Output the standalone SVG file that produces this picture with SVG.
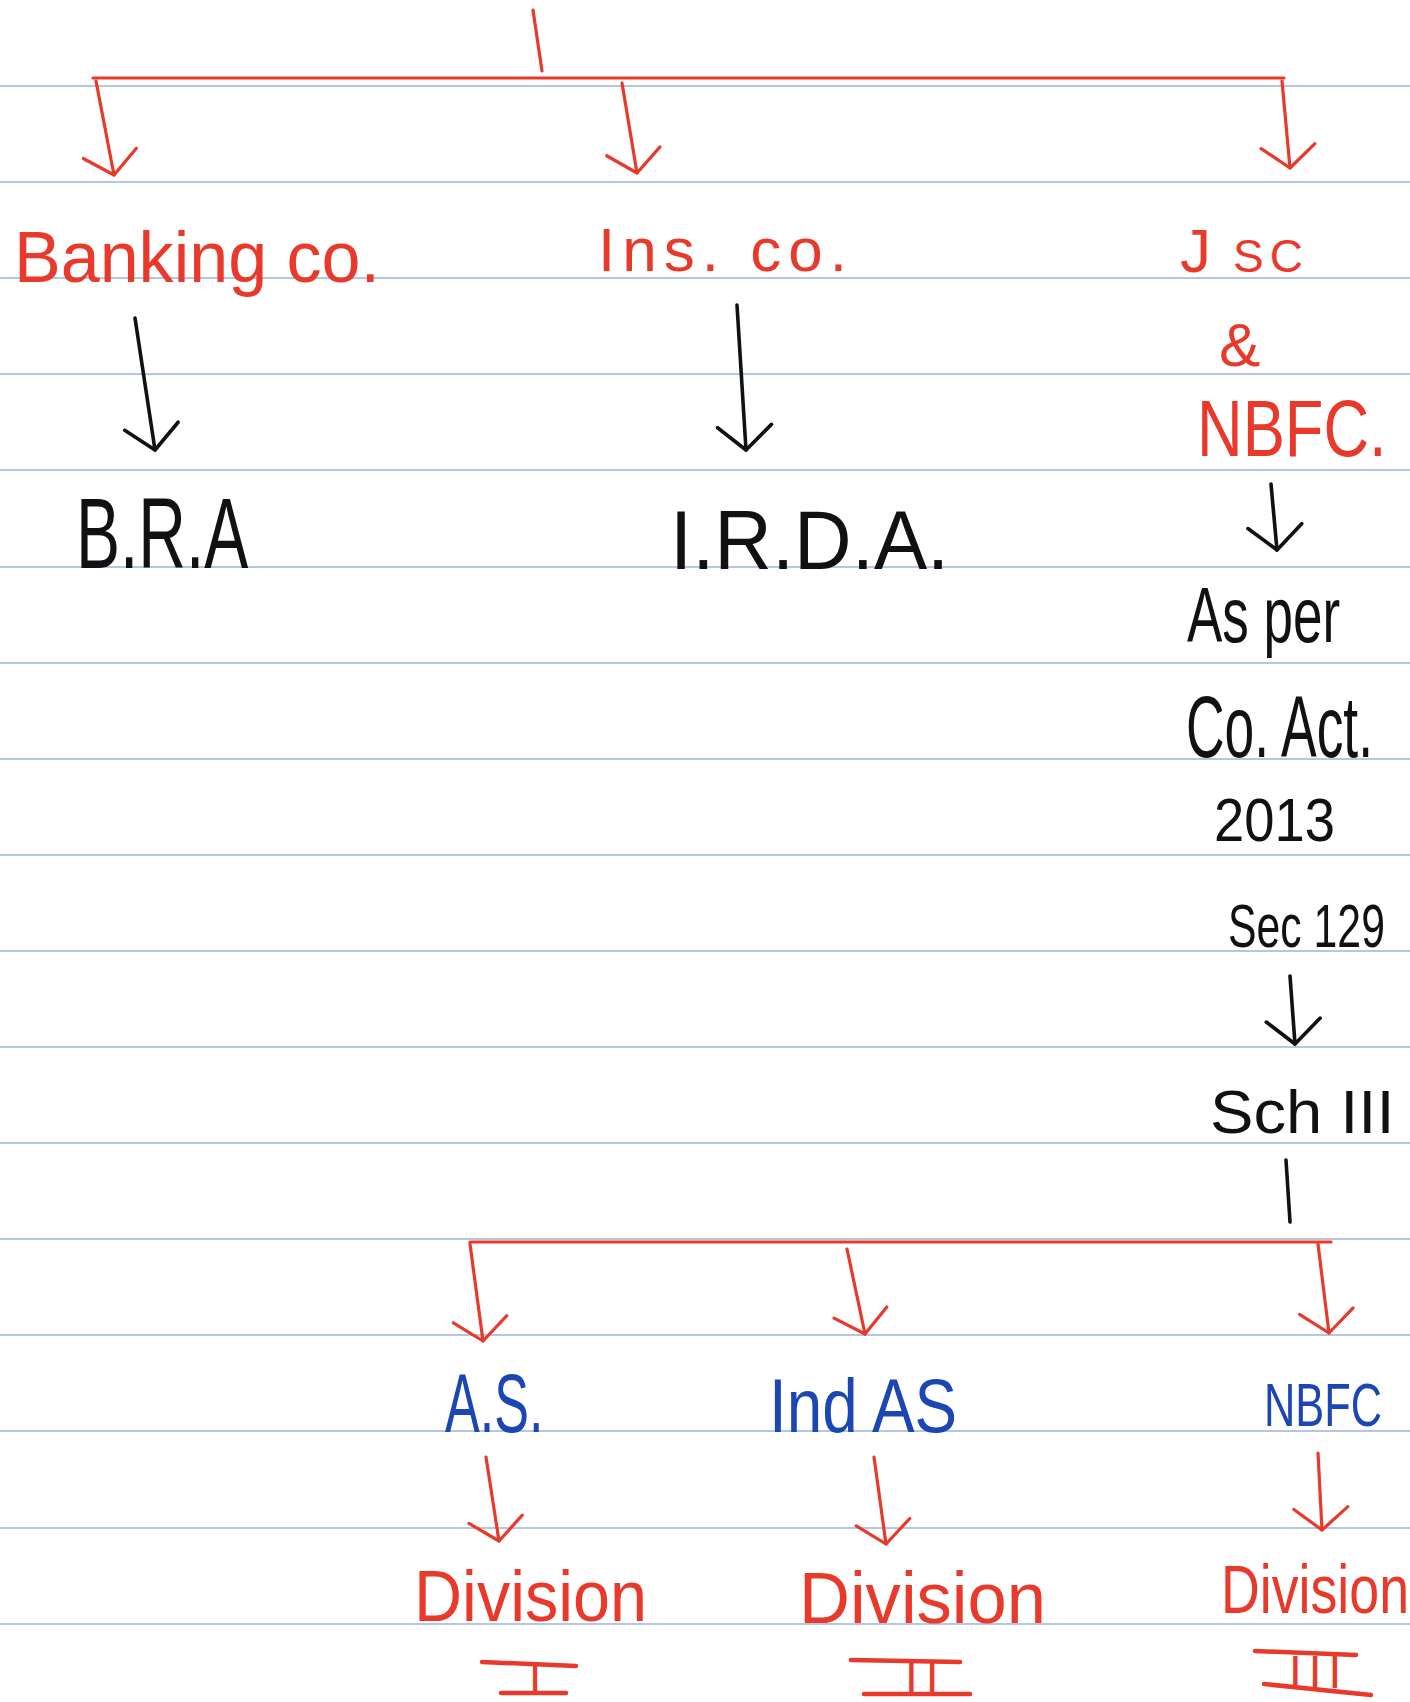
<svg xmlns="http://www.w3.org/2000/svg" width="1410" height="1702" viewBox="0 0 1410 1702">
<style>
.rule{stroke:#b3c6e2;stroke-width:2}
.r{fill:none;stroke:#e8392b;stroke-width:3.2;stroke-linecap:round;stroke-linejoin:round}
.rb{fill:none;stroke:#e8392b;stroke-width:4.5;stroke-linecap:round}
.k{fill:none;stroke:#111;stroke-width:3.6;stroke-linecap:round;stroke-linejoin:round}
.t{font-family:"Liberation Sans",Arial,sans-serif}
.red{fill:#e8392b}
.blk{fill:#111}
.blu{fill:#1c46b4}
</style>
<defs>
<marker id="ar" viewBox="-30 -30 60 60" refX="0" refY="0" markerWidth="60" markerHeight="60" markerUnits="userSpaceOnUse" orient="auto" overflow="visible">
<path d="M-22,-27 L0,0 L-22,27" fill="none" stroke="#e8392b" stroke-width="3.2" stroke-linecap="round" stroke-linejoin="round"/>
</marker>
<marker id="ak" viewBox="-30 -30 60 60" refX="0" refY="0" markerWidth="60" markerHeight="60" markerUnits="userSpaceOnUse" orient="auto" overflow="visible">
<path d="M-24,-27 L0,0 L-24,27" fill="none" stroke="#111" stroke-width="3.6" stroke-linecap="round" stroke-linejoin="round"/>
</marker>
</defs>
<rect width="1410" height="1702" fill="#fff"/>
<g id="ruling">
<line class="rule" x1="0" y1="86" x2="1410" y2="86"/>
<line class="rule" x1="0" y1="182" x2="1410" y2="182"/>
<line class="rule" x1="0" y1="278" x2="1410" y2="278"/>
<line class="rule" x1="0" y1="374" x2="1410" y2="374"/>
<line class="rule" x1="0" y1="470" x2="1410" y2="470"/>
<line class="rule" x1="0" y1="567" x2="1410" y2="567"/>
<line class="rule" x1="0" y1="663" x2="1410" y2="663"/>
<line class="rule" x1="0" y1="759" x2="1410" y2="759"/>
<line class="rule" x1="0" y1="855" x2="1410" y2="855"/>
<line class="rule" x1="0" y1="951" x2="1410" y2="951"/>
<line class="rule" x1="0" y1="1047" x2="1410" y2="1047"/>
<line class="rule" x1="0" y1="1143" x2="1410" y2="1143"/>
<line class="rule" x1="0" y1="1239" x2="1410" y2="1239"/>
<line class="rule" x1="0" y1="1335" x2="1410" y2="1335"/>
<line class="rule" x1="0" y1="1431" x2="1410" y2="1431"/>
<line class="rule" x1="0" y1="1528" x2="1410" y2="1528"/>
<line class="rule" x1="0" y1="1624" x2="1410" y2="1624"/>
</g>
<g id="connectors">
<path class="r" d="M533,10 L542,71"/>
<path class="r" d="M93,78 L1284,78"/>
<path class="r" d="M96,81 L114,175" marker-end="url(#ar)"/>
<path class="r" d="M622,83 L637,173" marker-end="url(#ar)"/>
<path class="r" d="M1282,81 L1290,168" marker-end="url(#ar)"/>
<path class="k" d="M135,318 L155,450" marker-end="url(#ak)"/>
<path class="k" d="M737,305 L746,450" marker-end="url(#ak)"/>
<path class="k" d="M1271,484 L1277,550" marker-end="url(#ak)"/>
<path class="k" d="M1290,976 L1295,1044" marker-end="url(#ak)"/>
<path class="k" d="M1286,1160 L1290,1222"/>
<path class="r" d="M470,1242 L1331,1242"/>
<path class="r" d="M470,1244 L483,1341" marker-end="url(#ar)"/>
<path class="r" d="M847,1249 L865,1334" marker-end="url(#ar)"/>
<path class="r" d="M1318,1244 L1329,1333" marker-end="url(#ar)"/>
<path class="r" d="M486,1457 L499,1541" marker-end="url(#ar)"/>
<path class="r" d="M874,1457 L886,1544" marker-end="url(#ar)"/>
<path class="r" d="M1318,1453 L1322,1530" marker-end="url(#ar)"/>
</g>
<g id="banking"><text class="t red" x="0" y="0" font-size="72" transform="translate(14,282) scale(0.973,1)">Banking co.</text></g>
<g id="insco"><text class="t red" x="598" y="271" font-size="62" letter-spacing="7">Ins. co.</text></g>
<g id="jsc">
<text class="t red" x="1180" y="272" font-size="62"><tspan>J</tspan><tspan dx="22" font-size="46" letter-spacing="6">SC</tspan></text>
<text class="t red" x="1219" y="366" font-size="62">&amp;</text>
<text class="t red" x="0" y="0" font-size="80" transform="translate(1197,456) scale(0.79,1)">NBFC.</text>
</g>
<g id="bra"><text class="t blk" x="0" y="0" font-size="100" transform="translate(76,568) scale(0.66,1)">B.R.A</text></g>
<g id="irda"><text class="t blk" x="0" y="0" font-size="84" transform="translate(670,569) scale(0.95,1)">I.R.D.A.</text></g>
<g id="coact">
<text class="t blk" x="0" y="0" font-size="78" transform="translate(1187,642) scale(0.68,1)">As per</text>
<text class="t blk" x="0" y="0" font-size="88" transform="translate(1186,757) scale(0.607,1)">Co. Act.</text>
<text class="t blk" x="0" y="0" font-size="62" transform="translate(1214,841) scale(0.877,1)">2013</text>
<text class="t blk" x="0" y="0" font-size="62" transform="translate(1228,947) scale(0.69,1)">Sec 129</text>
</g>
<g id="sch3"><text class="t blk" x="0" y="0" font-size="62" transform="translate(1210,1133) scale(1.05,1)">Sch III</text></g>
<g id="as"><text class="t blu" x="0" y="0" font-size="84" transform="translate(445,1432) scale(0.62,1)">A.S.</text></g>
<g id="indas"><text class="t blu" x="0" y="0" font-size="76" transform="translate(769,1432) scale(0.84,1)">Ind AS</text></g>
<g id="nbfc"><text class="t blu" x="0" y="0" font-size="62" transform="translate(1264,1426) scale(0.70,1)">NBFC</text></g>
<g id="div1">
<text class="t red" x="0" y="0" font-size="72" transform="translate(414,1621) scale(0.925,1)">Division</text>
<text class="t red" x="529" y="1693" font-size="44">I</text>
<path class="rb" d="M482,1662 L576,1666 M501,1693 L566,1693"/>
</g>
<g id="div2">
<text class="t red" x="0" y="0" font-size="72" transform="translate(799,1623) scale(0.98,1)">Division</text>
<text class="t red" x="905" y="1693" font-size="46" letter-spacing="8">II</text>
<path class="rb" d="M851,1660 L960,1662 M864,1694 L970,1694"/>
</g>
<g id="div3">
<text class="t red" x="0" y="0" font-size="68" transform="translate(1221,1613) scale(0.79,1)">Division</text>
<text class="t red" x="1289" y="1688" font-size="46" letter-spacing="7">III</text>
<path class="rb" d="M1255,1651 L1356,1655 M1264,1684 L1371,1695"/>
</g>
</svg>
